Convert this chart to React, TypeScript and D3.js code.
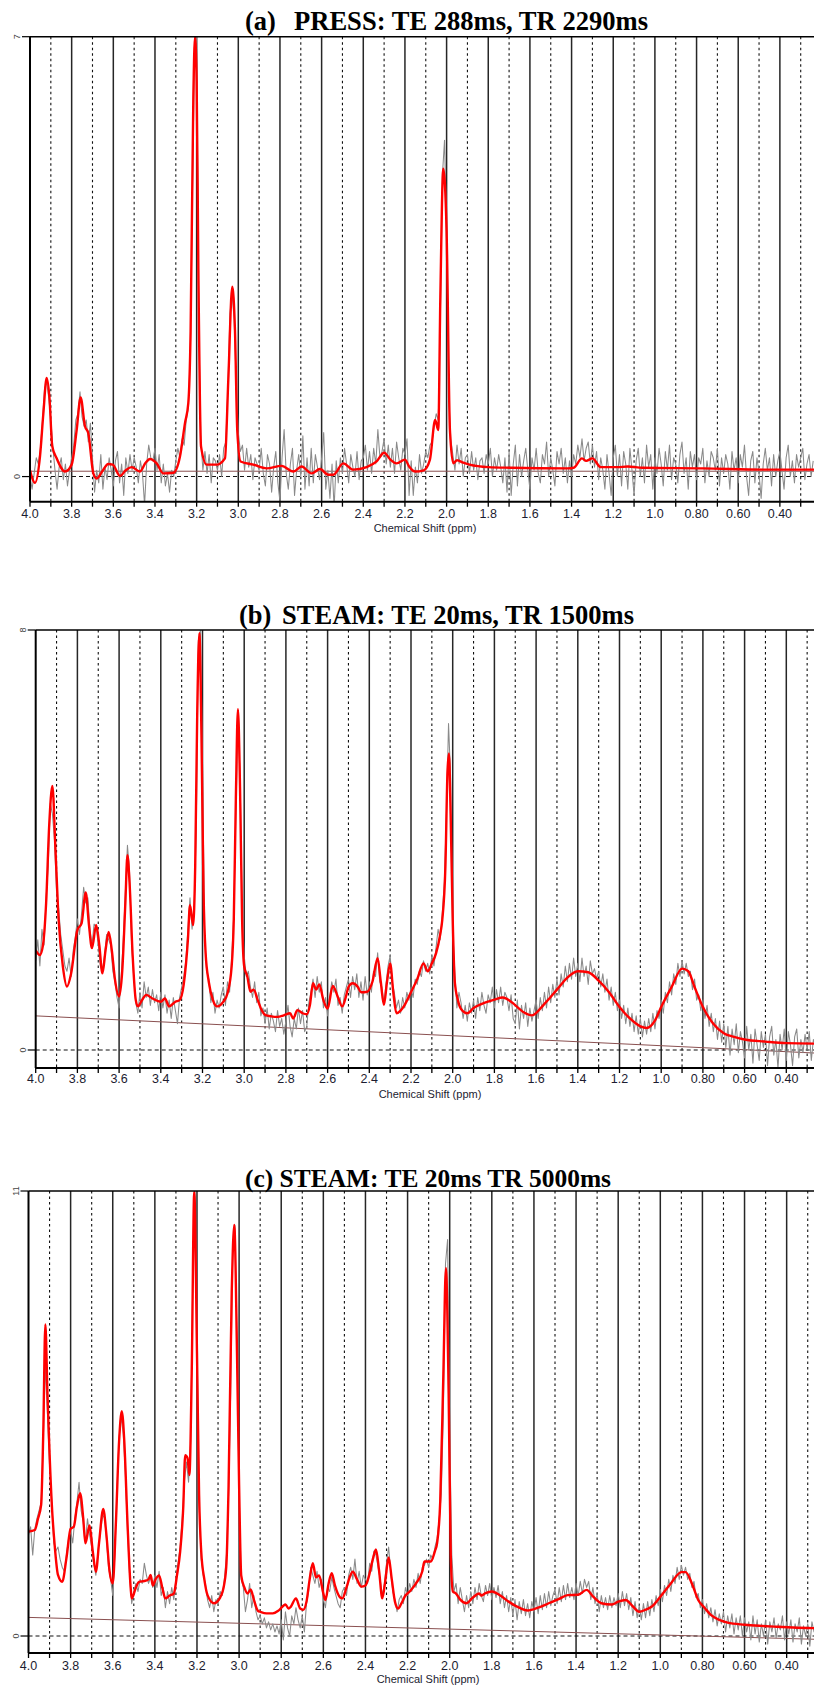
import React from "react";
import * as d3 from "d3";

// ---- shared axis content ----
const PPM_START = 4.0;
const PPM_STEP = 0.01;
const AXIS_LABELS = ["4.0", "3.8", "3.6", "3.4", "3.2", "3.0", "2.8", "2.6", "2.4", "2.2", "2.0", "1.8", "1.6", "1.4", "1.2", "1.0", "0.80", "0.60", "0.40"];
const DOTTED_PPM = [3.9, 3.7, 3.5, 3.3, 3.1, 2.9, 2.7, 2.5, 2.3, 2.1, 1.9, 1.7, 1.5, 1.3, 1.1, 0.9, 0.7, 0.5, 0.3];
const AXIS_TITLE = "Chemical Shift (ppm)";

// ---- (a) PRESS TE 288 ----
const TAG_A = "(a)";
const TITLE_A = "PRESS: TE 288ms, TR 2290ms";
const YTOP_A = 7;
const BASE_A: [number, number][] = [[4.0, 0.085], [0.2, 0.085]];
const FIT_A: [number, number][] = [
  [4.0, 0.1], [3.976, -0.1], [3.952, 0.32], [3.936, 1.0], [3.92, 1.57], [3.907, 1.27], [3.893, 0.48], [3.872, 0.29],
  [3.832, 0.08], [3.8, 0.19], [3.776, 0.74], [3.757, 1.26], [3.736, 0.8], [3.72, 0.69], [3.696, 0.05], [3.68, -0.03],
  [3.648, 0.11], [3.625, 0.2], [3.603, 0.19], [3.568, 0.01], [3.54, 0.1], [3.512, 0.15], [3.472, 0.08], [3.445, 0.22],
  [3.424, 0.28], [3.392, 0.21], [3.36, 0.05], [3.312, 0.06], [3.28, 0.32], [3.256, 0.85], [3.24, 1.17], [3.229, 2.3],
  [3.216, 6.0], [3.208, 7.0], [3.2, 6.3], [3.192, 3.4], [3.179, 0.48], [3.152, 0.19], [3.104, 0.19], [3.064, 0.29],
  [3.048, 1.54], [3.029, 3.02], [3.016, 2.33], [3.005, 0.74], [2.989, 0.24], [2.928, 0.19], [2.864, 0.13], [2.792, 0.17],
  [2.736, 0.08], [2.696, 0.16], [2.648, 0.05], [2.608, 0.12], [2.568, 0.03], [2.544, 0.03], [2.496, 0.21], [2.448, 0.11],
  [2.384, 0.15], [2.336, 0.24], [2.3, 0.38], [2.27, 0.27], [2.24, 0.21], [2.2, 0.27], [2.18, 0.16], [2.15, 0.08],
  [2.11, 0.1], [2.08, 0.27], [2.055, 0.9], [2.04, 0.74], [2.03, 2.86], [2.016, 4.9], [2.0, 3.9], [1.984, 0.74],
  [1.968, 0.21], [1.95, 0.26], [1.92, 0.22], [1.89, 0.19], [1.8, 0.15], [1.69, 0.14], [1.42, 0.13], [1.39, 0.14],
  [1.35, 0.29], [1.33, 0.25], [1.3, 0.29], [1.26, 0.15], [1.18, 0.15], [1.13, 0.16], [1.06, 0.14], [0.77, 0.13],
  [0.45, 0.11], [0.2, 0.11],
];
// one value per 0.01 ppm, starting at 4.00
const GRAY_A: number[] = [
  0.0, -0.2, 0.05, 0.3, 0.2, 0.45, 0.9, 1.4, 1.5, 1.25,
  0.9, 0.45, 0.1, -0.2, 0.15, 0.3, -0.05, 0.2, -0.15, 0.1,
  0.3, 0.5, 0.9, 1.0, 1.35, 0.95, 0.8, 0.9, 0.55, 0.85,
  0.3, -0.25, 0.1, -0.1, 0.35, -0.2, 0.15, -0.05, 0.3, 0.1,
  -0.15, 0.25, 0.4, -0.1, 0.2, -0.3, 0.3, 0.05, 0.35, 0.1,
  0.3, 0.15, -0.1, 0.25, 0.05, -0.45, 0.2, 0.5, 0.3, 0.25,
  0.45, 0.1, 0.35, -0.1, 0.2, -0.15, 0.05, -0.25, 0.1, 0.0,
  0.25, 0.45, 0.3, 0.6, 0.5, 0.9, 1.1, 2.0, 4.5, 6.8,
  7.0, 2.5, 0.6, 0.1, 0.4, 0.05, 0.35, -0.1, 0.3, 0.25,
  0.1, 0.35, 0.0, 0.45, 0.55, 1.4, 2.6, 2.9, 2.5, 1.5,
  0.7, 0.4, 0.5, 0.1, 0.45, 0.15, 0.35, -0.05, 0.3, 0.2,
  0.1, 0.45, 0.05, -0.15, 0.35, 0.2, -0.25, 0.15, 0.4, -0.1,
  -0.4, 0.3, 0.75, 0.05, -0.2, 0.2, 0.45, -0.3, 0.1, 0.35,
  0.0, 0.65, -0.2, 0.3, -0.15, 0.45, -0.1, 0.35, 0.15, -0.05,
  0.3, 0.7, -0.2, 0.1, -0.35, 0.2, -0.5, 0.25, -0.1, 0.3,
  0.05, 0.45, 0.2, -0.1, 0.35, 0.15, 0.0, 0.4, -0.05, 0.25,
  0.3, 0.5, 0.1, 0.4, 0.05, 0.45, 0.2, 0.75, 0.3, 0.4,
  0.6, 0.2, 0.5, 0.15, 0.45, 0.05, 0.55, 0.3, 0.1, 0.45,
  0.35, 0.6, -0.3, 0.25, -0.3, 0.15, -0.1, 0.35, 0.05, 0.2,
  0.4, 0.3, 0.5, 0.55, 0.8, 1.0, 0.9, 2.5, 4.8, 5.35,
  4.0, 1.3, 0.6, 0.35, 0.1, 0.5, 0.2, 0.45, 0.0, 0.3,
  0.35, 0.05, 0.4, 0.1, 0.3, -0.05, 0.25, 0.3, 0.05, 0.35,
  0.2, 0.45, 0.0, 0.3, 0.1, 0.35, 0.15, -0.1, 0.3, -0.25,
  0.4, -0.3, 0.2, 0.5, -0.15, 0.35, 0.0, 0.25, 0.45, 0.1,
  -0.2, 0.3, 0.1, 0.45, 0.05, -0.1, 0.35, 0.2, 0.55, 0.0,
  0.3, 0.1, -0.15, 0.4, 0.2, 0.45, 0.05, 0.3, -0.1, 0.25,
  0.0, 0.35, 0.2, 0.5, 0.3, 0.6, 0.25, 0.45, 0.55, 0.2,
  0.5, 0.15, 0.4, -0.05, 0.3, 0.1, -0.2, 0.35, 0.05, -0.3,
  0.3, 0.5, 0.0, 0.35, -0.15, 0.4, 0.2, -0.2, 0.45, 0.1,
  -0.3, 0.25, 0.45, 0.0, 0.3, -0.1, 0.5, 0.15, 0.35, -0.2,
  0.3, 0.05, 0.45, 0.2, -0.15, 0.4, 0.1, 0.5, -0.05, 0.3,
  0.2, -0.1, 0.35, 0.55, 0.05, 0.3, -0.2, 0.4, 0.15, 0.35,
  -0.05, 0.3, 0.2, 0.45, -0.1, 0.25, 0.0, 0.4, 0.3, 0.1,
  0.45, -0.15, 0.3, 0.05, 0.35, 0.2, -0.2, 0.4, 0.1, 0.3,
  -0.1, 0.35, 0.15, 0.5, 0.0, -0.3, 0.25, 0.4, -0.1, 0.3,
  0.05, -0.35, 0.2, 0.45, 0.1, 0.3, -0.15, 0.35, 0.0, 0.25,
  0.4, 0.1, -0.2, 0.3, 0.5, 0.0, 0.25, -0.1, 0.35, 0.15,
  0.3, 0.45, -0.05, 0.2, 0.35, 0.0, 0.25,
];

// ---- (b) STEAM TE 20, TR 1500 ----
const TAG_B = "(b)";
const TITLE_B = "STEAM: TE 20ms, TR 1500ms";
const YTOP_B = 8;
const BASE_B: [number, number][] = [[4.0, 0.65], [0.2, -0.07]];
const FIT_B: [number, number][] = [
  [4.0, 1.9], [3.98, 1.81], [3.965, 2.0], [3.95, 2.8], [3.935, 4.3], [3.92, 5.03], [3.905, 3.8], [3.89, 2.48],
  [3.87, 1.6], [3.85, 1.21], [3.83, 1.46], [3.8, 2.29], [3.78, 2.41], [3.76, 3.0], [3.745, 2.4], [3.73, 1.94],
  [3.71, 2.38], [3.695, 2.0], [3.68, 1.46], [3.665, 1.9], [3.65, 2.25], [3.635, 1.9], [3.62, 1.35], [3.6, 1.02],
  [3.585, 1.5], [3.57, 2.8], [3.56, 3.71], [3.55, 3.2], [3.535, 1.8], [3.52, 0.95], [3.51, 0.83], [3.49, 0.95],
  [3.47, 1.05], [3.44, 0.98], [3.4, 0.92], [3.38, 0.98], [3.36, 0.83], [3.33, 0.92], [3.31, 0.95], [3.29, 1.25],
  [3.27, 2.1], [3.26, 2.76], [3.245, 2.38], [3.235, 3.5], [3.225, 6.5], [3.215, 7.94], [3.205, 6.0], [3.195, 3.0],
  [3.185, 1.84], [3.17, 1.3], [3.15, 0.95], [3.13, 0.83], [3.1, 0.92], [3.08, 1.08], [3.06, 1.6], [3.05, 2.48],
  [3.04, 4.8], [3.03, 6.49], [3.02, 5.0], [3.01, 2.48], [3.0, 1.59], [2.985, 1.4], [2.97, 1.11], [2.955, 1.15],
  [2.935, 0.95], [2.915, 0.75], [2.9, 0.67], [2.87, 0.64], [2.84, 0.63], [2.81, 0.66], [2.78, 0.7], [2.765, 0.6],
  [2.745, 0.76], [2.72, 0.7], [2.7, 0.68], [2.685, 0.85], [2.67, 1.27], [2.655, 1.15], [2.64, 1.25], [2.62, 0.95],
  [2.6, 0.79], [2.575, 1.22], [2.55, 1.0], [2.53, 0.83], [2.51, 1.05], [2.5, 1.2], [2.48, 1.27], [2.455, 1.2],
  [2.44, 1.1], [2.41, 1.11], [2.385, 1.3], [2.36, 1.75], [2.345, 1.3], [2.33, 0.86], [2.315, 1.3], [2.3, 1.65],
  [2.285, 1.1], [2.27, 0.7], [2.25, 0.75], [2.23, 0.86], [2.2, 1.1], [2.17, 1.35], [2.14, 1.65], [2.12, 1.5],
  [2.1, 1.65], [2.08, 1.84], [2.06, 2.2], [2.05, 2.48], [2.035, 3.5], [2.025, 5.3], [2.018, 5.65], [2.01, 4.5],
  [2.0, 2.5], [1.99, 1.3], [1.975, 0.95], [1.96, 0.78], [1.93, 0.7], [1.9, 0.8], [1.86, 0.88], [1.8, 0.96],
  [1.76, 1.0], [1.72, 0.92], [1.66, 0.72], [1.62, 0.66], [1.56, 0.88], [1.5, 1.15], [1.45, 1.38], [1.4, 1.5],
  [1.35, 1.48], [1.3, 1.32], [1.25, 1.1], [1.2, 0.82], [1.15, 0.6], [1.1, 0.45], [1.07, 0.42], [1.03, 0.56],
  [1.0, 0.82], [0.95, 1.2], [0.9, 1.55], [0.87, 1.5], [0.84, 1.2], [0.8, 0.82], [0.75, 0.5], [0.7, 0.32],
  [0.65, 0.25], [0.6, 0.2], [0.5, 0.16], [0.4, 0.13], [0.2, 0.12],
];
const GRAY_B: number[] = [
  1.7, 2.1, 1.6, 2.3, 2.0, 2.9, 3.5, 4.7, 4.5, 4.0,
  3.0, 2.7, 2.2, 1.9, 1.6, 1.5, 1.75, 1.4, 1.9, 2.15,
  2.5, 2.2, 2.6, 3.1, 2.8, 2.9, 2.3, 2.0, 2.4, 2.35,
  2.0, 1.6, 1.5, 1.8, 2.2, 2.1, 2.0, 1.5, 1.3, 1.0,
  0.8, 1.4, 2.1, 3.0, 3.9, 3.4, 2.0, 1.4, 0.9, 0.7,
  1.1, 0.8, 1.3, 1.0, 1.2, 0.85, 1.15, 0.9, 1.05, 0.75,
  1.1, 0.8, 1.05, 0.7, 0.95, 0.6, 1.0, 0.75, 0.5, 1.0,
  1.2, 1.4, 1.7, 2.3, 2.9, 2.3, 2.7, 4.2, 7.8, 8.0,
  5.5, 2.2, 1.5, 1.35, 0.9, 1.1, 0.7, 0.95, 0.8, 1.05,
  1.2, 0.85, 1.3, 1.1, 1.75, 2.6, 4.5, 6.2, 5.3, 2.7,
  1.8, 1.4, 1.5, 1.2, 1.0, 1.3, 0.9, 1.1, 0.65, 0.8,
  0.5, 0.8, 0.4, 0.7, 0.55, 0.35, 0.75, 0.45, 0.6, 0.3,
  0.55, 0.85, 0.45, 0.25, 0.6, 0.4, 0.8, 0.5, 0.75, 0.35,
  0.45, 0.9, 1.1, 1.35, 1.0, 1.4, 1.1, 1.3, 0.8, 1.0,
  0.65, 1.0, 1.3, 1.1, 1.35, 0.85, 1.0, 0.7, 1.05, 1.2,
  1.35, 1.0, 1.4, 1.15, 1.45, 1.0, 1.3, 0.95, 1.4, 1.05,
  1.3, 1.1, 1.5, 1.4, 1.85, 1.3, 1.2, 0.9, 1.25, 1.6,
  1.8, 1.3, 1.1, 0.8, 0.95, 0.7, 1.0, 0.8, 1.1, 0.95,
  1.2, 1.0, 1.35, 1.25, 1.5, 1.4, 1.7, 1.5, 1.65, 1.45,
  1.8, 1.6, 1.95, 2.3, 2.1, 2.6, 3.2, 4.5, 6.22, 5.2,
  2.3, 1.5, 0.8, 1.1, 0.9, 0.6, 0.85, 0.55, 0.9, 0.7,
  0.95, 0.6, 1.0, 0.75, 1.1, 0.85, 0.7, 1.05, 0.9, 1.2,
  0.8, 1.15, 0.9, 1.2, 0.85, 1.1, 1.0, 0.75, 1.05, 0.6,
  0.5, 0.95, 0.4, 0.85, 0.6, 0.9, 0.45, 0.8, 0.55, 0.75,
  0.95, 0.6, 1.0, 0.75, 1.1, 0.8, 1.2, 0.9, 1.25, 1.0,
  1.35, 1.05, 1.45, 1.2, 1.6, 1.3, 1.65, 1.35, 1.75, 1.4,
  1.65, 1.3, 1.75, 1.4, 1.6, 1.25, 1.7, 1.45, 1.55, 1.35,
  1.5, 1.2, 1.45, 1.1, 1.35, 0.95, 1.2, 0.85, 1.1, 0.75,
  0.95, 0.6, 0.85, 0.5, 0.8, 0.45, 0.7, 0.35, 0.65, 0.3,
  0.6, 0.25, 0.55, 0.3, 0.6, 0.35, 0.7, 0.4, 0.75, 0.6,
  0.95, 0.7, 1.1, 0.9, 1.3, 1.05, 1.45, 1.25, 1.65, 1.4,
  1.7, 1.45, 1.65, 1.4, 1.5, 1.15, 1.35, 0.95, 1.05, 0.75,
  0.95, 0.6, 0.85, 0.45, 0.7, 0.35, 0.6, 0.2, 0.55, 0.15,
  0.5, 0.05, 0.45, -0.1, 0.4, 0.1, 0.5, -0.05, 0.35, 0.15,
  -0.15, 0.45, 0.0, 0.3, -0.25, 0.4, 0.1, -0.2, 0.35, 0.05,
  0.3, -0.3, 0.25, 0.45, -0.1, 0.2, -0.35, 0.3, 0.0, 0.4,
  -0.2, 0.35, 0.1, -0.3, 0.25, 0.4, -0.15, 0.2, -0.05, 0.3,
  0.0, 0.35, -0.2, 0.2, 0.1, 0.3, -0.1,
];

// ---- (c) STEAM TE 20, TR 5000 ----
const TAG_C = "(c)";
const TITLE_C = "STEAM: TE 20ms TR 5000ms";
const YTOP_C = 11;
const BASE_C: [number, number][] = [[4.0, 0.46], [0.2, -0.09]];
const FIT_C: [number, number][] = [
  [4.0, 2.58], [3.97, 2.62], [3.955, 2.9], [3.94, 3.24], [3.93, 5.0], [3.92, 7.7], [3.91, 6.0], [3.89, 3.32],
  [3.875, 2.2], [3.86, 1.51], [3.84, 1.34], [3.82, 1.92], [3.8, 2.65], [3.785, 2.7], [3.77, 3.2], [3.755, 3.53],
  [3.74, 2.9], [3.73, 2.29], [3.715, 2.65], [3.71, 2.73], [3.695, 2.1], [3.68, 1.59], [3.665, 2.3], [3.645, 3.14],
  [3.63, 2.5], [3.615, 1.6], [3.6, 1.3], [3.585, 2.8], [3.57, 4.8], [3.557, 5.56], [3.545, 4.8], [3.53, 2.8],
  [3.515, 1.2], [3.51, 0.93], [3.49, 1.2], [3.475, 1.34], [3.45, 1.36], [3.43, 1.4], [3.42, 1.51], [3.41, 1.25],
  [3.395, 1.42], [3.38, 1.5], [3.365, 1.2], [3.35, 0.93], [3.33, 1.0], [3.31, 1.05], [3.295, 1.5], [3.28, 2.08],
  [3.265, 3.2], [3.256, 4.47], [3.245, 4.4], [3.236, 3.98], [3.225, 6.5], [3.213, 10.98], [3.2, 7.0], [3.19, 3.5],
  [3.18, 2.1], [3.165, 1.4], [3.15, 1.01], [3.12, 0.81], [3.09, 0.95], [3.07, 1.3], [3.06, 1.8], [3.05, 3.7],
  [3.035, 8.5], [3.023, 10.16], [3.01, 7.0], [3.0, 3.73], [2.99, 1.5], [2.975, 1.2], [2.96, 1.05], [2.945, 1.15],
  [2.93, 0.9], [2.91, 0.62], [2.9, 0.6], [2.87, 0.56], [2.84, 0.56], [2.81, 0.64], [2.78, 0.78], [2.765, 0.68],
  [2.755, 0.72], [2.73, 0.93], [2.71, 0.68], [2.695, 0.65], [2.68, 0.85], [2.665, 1.4], [2.65, 1.8], [2.635, 1.45],
  [2.62, 1.5], [2.6, 1.05], [2.59, 0.89], [2.575, 1.3], [2.56, 1.55], [2.545, 1.25], [2.52, 0.95], [2.51, 0.93],
  [2.49, 1.2], [2.475, 1.45], [2.46, 1.59], [2.44, 1.4], [2.42, 1.22], [2.4, 1.25], [2.385, 1.45], [2.365, 1.9],
  [2.35, 2.14], [2.335, 1.6], [2.32, 0.93], [2.305, 1.4], [2.29, 1.94], [2.275, 1.4], [2.26, 0.85], [2.245, 0.68],
  [2.23, 0.8], [2.21, 1.0], [2.19, 1.1], [2.16, 1.3], [2.13, 1.6], [2.12, 1.84], [2.09, 1.84], [2.07, 2.1],
  [2.06, 2.29], [2.045, 3.32], [2.03, 6.5], [2.018, 9.09], [2.005, 6.0], [1.995, 2.0], [1.985, 1.1], [1.97, 1.05],
  [1.95, 0.9], [1.92, 0.81], [1.89, 0.95], [1.86, 1.05], [1.85, 1.0], [1.83, 1.06], [1.8, 1.1], [1.76, 1.0],
  [1.72, 0.85], [1.67, 0.7], [1.63, 0.63], [1.58, 0.7], [1.53, 0.81], [1.48, 0.92], [1.44, 1.01], [1.39, 1.02],
  [1.35, 1.14], [1.32, 0.98], [1.28, 0.81], [1.23, 0.78], [1.2, 0.85], [1.165, 0.89], [1.13, 0.73], [1.1, 0.6],
  [1.07, 0.65], [1.04, 0.73], [1.0, 0.97], [0.95, 1.3], [0.9, 1.58], [0.88, 1.58], [0.85, 1.3], [0.82, 0.89],
  [0.79, 0.7], [0.76, 0.52], [0.72, 0.4], [0.68, 0.33], [0.6, 0.28], [0.52, 0.25], [0.45, 0.23], [0.37, 0.21],
  [0.2, 0.19],
];
const GRAY_C: number[] = [
  2.5, 2.7, 2.0, 2.65, 2.9, 3.1, 3.3, 4.8, 6.7, 5.5,
  4.2, 3.4, 2.3, 2.1, 2.2, 1.9, 1.7, 1.6, 2.0, 2.4,
  2.6, 2.3, 2.9, 3.3, 3.8, 3.1, 2.8, 2.3, 2.9, 2.5,
  2.2, 1.8, 1.5, 2.1, 2.5, 2.9, 3.0, 2.4, 1.7, 1.4,
  1.0, 2.0, 3.6, 4.9, 5.4, 5.0, 4.0, 2.6, 1.5, 0.8,
  1.1, 1.3, 1.1, 1.4, 1.3, 1.8, 1.5, 1.3, 1.45, 1.2,
  1.5, 1.2, 1.6, 1.0, 1.2, 0.7, 1.1, 0.8, 1.2, 0.9,
  1.4, 1.8, 2.2, 2.9, 3.8, 4.3, 3.8, 4.8, 8.8, 11.0,
  7.5, 3.3, 1.9, 1.5, 1.3, 0.9, 0.7, 1.0, 0.6, 0.9,
  0.8, 1.1, 1.0, 1.4, 2.0, 3.5, 6.0, 9.6, 10.16, 7.3,
  3.5, 1.4, 1.2, 0.6, 0.9, 1.3, 0.7, 1.0, 0.6, 0.4,
  0.5, 0.3, 0.45, 0.2, 0.35, 0.15, 0.3, 0.1, 0.25, 0.05,
  0.4, -0.1, 0.6, 0.2, 0.0, 0.5, 0.3, 0.7, 0.4, 0.2,
  0.5, 0.1, 0.8, 1.1, 1.7, 1.5, 1.3, 1.6, 1.2, 1.4,
  0.9, 0.7, 1.2, 1.1, 1.45, 1.2, 1.0, 0.8, 0.7, 1.1,
  1.2, 1.0, 1.5, 1.7, 1.4, 1.9, 1.3, 1.6, 1.2, 1.5,
  1.4, 1.3, 1.8, 1.6, 2.1, 2.0, 1.7, 1.4, 1.0, 1.3,
  1.8, 2.2, 1.6, 1.1, 0.9, 0.6, 0.9, 1.0, 0.8, 1.2,
  1.0, 1.3, 1.1, 1.4, 1.2, 1.55, 1.3, 1.7, 1.75, 1.9,
  1.7, 2.0, 1.9, 2.2, 2.4, 2.9, 3.5, 5.5, 9.2, 9.8,
  5.0, 2.0, 1.1, 1.3, 0.8, 1.2, 0.9, 0.6, 1.0, 0.7,
  1.1, 0.8, 1.2, 0.9, 1.3, 1.0, 0.85, 1.25, 1.0, 1.3,
  0.9, 1.2, 0.95, 1.25, 0.8, 1.1, 0.7, 1.0, 0.6, 0.95,
  0.5, 0.9, 0.4, 0.85, 0.55, 0.9, 0.5, 0.8, 0.45, 0.85,
  0.6, 0.95, 0.55, 1.0, 0.65, 1.05, 0.7, 1.1, 0.75, 1.0,
  1.15, 0.8, 1.2, 0.85, 1.25, 0.9, 1.3, 0.95, 1.2, 0.9,
  1.3, 1.0, 1.35, 1.05, 1.4, 1.2, 1.35, 0.9, 1.2, 0.8,
  1.05, 0.6, 1.0, 0.7, 0.95, 0.65, 1.0, 0.7, 0.95, 0.75,
  1.05, 0.7, 1.1, 0.75, 1.05, 0.65, 0.95, 0.5, 0.85, 0.45,
  0.75, 0.4, 0.8, 0.45, 0.85, 0.5, 0.9, 0.6, 1.0, 0.75,
  1.15, 0.85, 1.25, 1.0, 1.4, 1.1, 1.5, 1.3, 1.7, 1.4,
  1.75, 1.5, 1.7, 1.4, 1.55, 1.2, 1.35, 0.95, 1.05, 0.7,
  0.9, 0.55, 0.8, 0.45, 0.7, 0.35, 0.65, 0.25, 0.55, 0.3,
  0.6, 0.1, 0.5, 0.2, 0.55, 0.05, 0.45, 0.15, 0.5, 0.0,
  0.45, 0.1, 0.35, -0.1, 0.5, 0.05, 0.4, -0.15, 0.3, 0.0,
  0.4, -0.2, 0.35, 0.1, 0.45, -0.05, 0.3, 0.15, 0.5, -0.1,
  0.35, 0.05, 0.4, -0.15, 0.3, 0.1, 0.45, -0.2, 0.25, 0.0,
  0.3, -0.25, 0.35, 0.1, 0.2, -0.1, 0.3,
];

// ---- layout ----
const WIDTH = 814;
const HEIGHT = 1685;

type Pt = [number, number];
interface PanelDef {
  id: string;
  tag: string;
  title: string;
  joinTitle: boolean;
  yTop: number;
  gray: number[];
  fit: Pt[];
  base: Pt[];
  left: number;
  top: number;
  bottom: number;
  pxPerPpm: number;
  yMin: number;
  tagX: number;
  titleX: number;
  titleW: number;
  titleY: number;
  axisTitleX: number;
  labelDy: number;
}

const PANELS: PanelDef[] = [
  { id: "a", tag: TAG_A, title: TITLE_A, joinTitle: false, yTop: YTOP_A, gray: GRAY_A, fit: FIT_A, base: BASE_A,
    left: 30, top: 36.7, bottom: 501.7, pxPerPpm: 208.3, yMin: -0.4,
    tagX: 245, titleX: 294, titleW: 354, titleY: 30, axisTitleX: 425, labelDy: 16 },
  { id: "b", tag: TAG_B, title: TITLE_B, joinTitle: false, yTop: YTOP_B, gray: GRAY_B, fit: FIT_B, base: BASE_B,
    left: 35.7, top: 630, bottom: 1068, pxPerPpm: 208.5, yMin: -0.343,
    tagX: 239, titleX: 282, titleW: 352, titleY: 624, axisTitleX: 430, labelDy: 15 },
  { id: "c", tag: TAG_C, title: TITLE_C, joinTitle: true, yTop: YTOP_C, gray: GRAY_C, fit: FIT_C, base: BASE_C,
    left: 28.5, top: 1191, bottom: 1653, pxPerPpm: 210.6, yMin: -0.42,
    tagX: 245, titleX: 245, titleW: 366, titleY: 1187, axisTitleX: 428, labelDy: 17 },
];

const SANS = "'Liberation Sans', Arial, Helvetica, sans-serif";
const SERIF = "'Liberation Serif', 'Times New Roman', Times, serif";

function Panel({ p }: { p: PanelDef }) {
  const xEnd = PPM_START - (WIDTH - p.left) / p.pxPerPpm;
  const x = d3.scaleLinear().domain([PPM_START, xEnd]).range([p.left, WIDTH]);
  const y = d3.scaleLinear().domain([p.yMin, p.yTop]).range([p.bottom, p.top]);

  const grayPts: Pt[] = p.gray.map((v, i) => [PPM_START - i * PPM_STEP, v]);
  const plain = d3.line<Pt>().x((d) => x(d[0])).y((d) => y(d[1]));
  const smooth = d3.line<Pt>().x((d) => x(d[0])).y((d) => y(d[1])).curve(d3.curveMonotoneX);

  const solidPpm = AXIS_LABELS.map((s) => parseFloat(s));
  const tickPpm = [...solidPpm, ...DOTTED_PPM].filter((v) => v >= xEnd);
  const clipId = `plot-clip-${p.id}`;
  const y0 = y(0);

  return (
    <g>
      <defs>
        <clipPath id={clipId}>
          <rect x={p.left} y={p.top} width={WIDTH - p.left} height={p.bottom - p.top} />
        </clipPath>
      </defs>

      {/* title */}
      {p.joinTitle ? (
        <text x={p.titleX} y={p.titleY} fontFamily={SERIF} fontWeight="bold" fontSize={26}
          textLength={p.titleW} lengthAdjust="spacingAndGlyphs" fill="#000">
          {`${p.tag} ${p.title}`}
        </text>
      ) : (
        <>
          <text x={p.tagX} y={p.titleY} fontFamily={SERIF} fontWeight="bold" fontSize={26.5} fill="#000">
            {p.tag}
          </text>
          <text x={p.titleX} y={p.titleY} fontFamily={SERIF} fontWeight="bold" fontSize={26.5}
            textLength={p.titleW} lengthAdjust="spacingAndGlyphs" fill="#000">
            {p.title}
          </text>
        </>
      )}

      {/* vertical grid */}
      {solidPpm.filter((v) => v < PPM_START).map((v) => (
        <line key={`s${v}`} x1={x(v)} x2={x(v)} y1={p.top} y2={p.bottom} stroke="#262626" strokeWidth={1.5} />
      ))}
      {DOTTED_PPM.filter((v) => v >= xEnd).map((v) => (
        <line key={`d${v}`} x1={x(v)} x2={x(v)} y1={p.top} y2={p.bottom} stroke="#111" strokeWidth={1.1} strokeDasharray="2.5,3" />
      ))}

      {/* zero reference */}
      <line x1={p.left} x2={WIDTH} y1={y0} y2={y0} stroke="#111" strokeWidth={1.1} strokeDasharray="4,3" />

      <g clipPath={`url(#${clipId})`}>
        <path d={plain(p.base) ?? ""} fill="none" stroke="#8a5050" strokeWidth={1} />
        <path d={plain(grayPts) ?? ""} fill="none" stroke="#8a8a8a" strokeWidth={1.05} strokeLinejoin="round" />
        <path d={smooth(p.fit) ?? ""} fill="none" stroke="#ff0000" strokeWidth={2.4} strokeLinejoin="round" />
      </g>

      {/* frame */}
      <line x1={p.left} x2={WIDTH} y1={p.top} y2={p.top} stroke="#000" strokeWidth={1.5} />
      <line x1={p.left} x2={p.left} y1={p.top} y2={p.bottom} stroke="#000" strokeWidth={2} />
      <line x1={p.left} x2={WIDTH} y1={p.bottom} y2={p.bottom} stroke="#000" strokeWidth={2} />

      {/* x ticks and labels */}
      {tickPpm.map((v) => (
        <line key={`t${v}`} x1={x(v)} x2={x(v)} y1={p.bottom} y2={p.bottom + 5} stroke="#000" strokeWidth={1.3} />
      ))}
      {AXIS_LABELS.map((s) => (
        <text key={`l${s}`} x={x(parseFloat(s))} y={p.bottom + p.labelDy} textAnchor="middle"
          fontFamily={SANS} fontSize={12.5} fill="#1c1c30">
          {s}
        </text>
      ))}
      <text x={p.axisTitleX} y={p.bottom + 30} textAnchor="middle" fontFamily={SANS} fontSize={11} fill="#1c1c30">
        {AXIS_TITLE}
      </text>

      {/* y ticks and rotated labels */}
      {[0, p.yTop].map((v) => (
        <g key={`y${v}`}>
          <line x1={p.left - 8} x2={p.left} y1={y(v)} y2={y(v)} stroke="#000" strokeWidth={1.2} />
          <text transform={`translate(${p.left - 10},${y(v)}) rotate(-90)`} textAnchor="middle"
            fontFamily={SANS} fontSize={9} fill="#444">
            {v}
          </text>
        </g>
      ))}
    </g>
  );
}

export default function App() {
  return (
    <svg width={WIDTH} height={HEIGHT} viewBox={`0 0 ${WIDTH} ${HEIGHT}`}
      style={{ position: "absolute", left: 0, top: 0, background: "#fff", display: "block" }}>
      <rect x={0} y={0} width={WIDTH} height={HEIGHT} fill="#fff" />
      {PANELS.map((p) => (
        <Panel key={p.id} p={p} />
      ))}
    </svg>
  );
}
